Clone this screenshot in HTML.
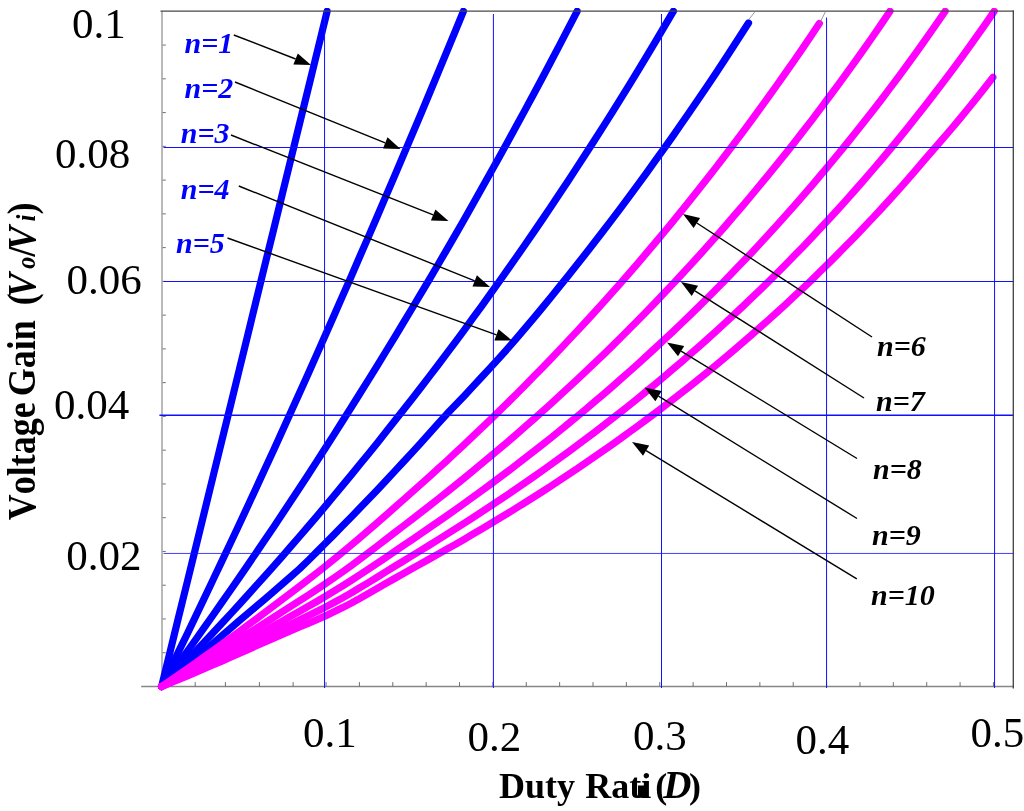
<!DOCTYPE html>
<html><head><meta charset="utf-8"><title>Voltage Gain vs Duty Ratio</title>
<style>html,body{margin:0;padding:0;background:#fff;}body{width:1024px;height:811px;position:relative;overflow:hidden;font-family:"Liberation Serif",serif;}</style></head>
<body>
<svg width="1024" height="811" viewBox="0 0 1024 811" style="position:absolute;left:0;top:0;will-change:transform">
<rect width="1024" height="811" fill="#fff"/>
<line x1="162.0" y1="11" x2="162.0" y2="686.5" stroke="#b2b2b2" stroke-width="1.8"/>
<line x1="141.2" y1="686.5" x2="1014" y2="686.5" stroke="#868686" stroke-width="1.3"/>
<line x1="162.5" y1="652.74" x2="165.8" y2="652.74" stroke="#707070" stroke-width="1"/>
<line x1="162.5" y1="618.98" x2="165.8" y2="618.98" stroke="#707070" stroke-width="1"/>
<line x1="162.5" y1="585.22" x2="165.8" y2="585.22" stroke="#707070" stroke-width="1"/>
<line x1="162.5" y1="551.46" x2="165.8" y2="551.46" stroke="#707070" stroke-width="1"/>
<line x1="162.5" y1="517.70" x2="165.8" y2="517.70" stroke="#707070" stroke-width="1"/>
<line x1="162.5" y1="483.94" x2="165.8" y2="483.94" stroke="#707070" stroke-width="1"/>
<line x1="162.5" y1="450.18" x2="165.8" y2="450.18" stroke="#707070" stroke-width="1"/>
<line x1="162.5" y1="416.42" x2="165.8" y2="416.42" stroke="#707070" stroke-width="1"/>
<line x1="162.5" y1="382.66" x2="165.8" y2="382.66" stroke="#707070" stroke-width="1"/>
<line x1="162.5" y1="348.90" x2="165.8" y2="348.90" stroke="#707070" stroke-width="1"/>
<line x1="162.5" y1="315.14" x2="165.8" y2="315.14" stroke="#707070" stroke-width="1"/>
<line x1="162.5" y1="281.38" x2="165.8" y2="281.38" stroke="#707070" stroke-width="1"/>
<line x1="162.5" y1="247.62" x2="165.8" y2="247.62" stroke="#707070" stroke-width="1"/>
<line x1="162.5" y1="213.86" x2="165.8" y2="213.86" stroke="#707070" stroke-width="1"/>
<line x1="162.5" y1="180.10" x2="165.8" y2="180.10" stroke="#707070" stroke-width="1"/>
<line x1="162.5" y1="146.34" x2="165.8" y2="146.34" stroke="#707070" stroke-width="1"/>
<line x1="162.5" y1="112.58" x2="165.8" y2="112.58" stroke="#707070" stroke-width="1"/>
<line x1="162.5" y1="78.82" x2="165.8" y2="78.82" stroke="#707070" stroke-width="1"/>
<line x1="162.5" y1="45.06" x2="165.8" y2="45.06" stroke="#707070" stroke-width="1"/>
<line x1="195.20" y1="686.5" x2="195.20" y2="682.1" stroke="#707070" stroke-width="1"/>
<line x1="225.40" y1="686.5" x2="225.40" y2="682.1" stroke="#707070" stroke-width="1"/>
<line x1="259.40" y1="686.5" x2="259.40" y2="682.1" stroke="#707070" stroke-width="1"/>
<line x1="293.10" y1="686.5" x2="293.10" y2="682.1" stroke="#707070" stroke-width="1"/>
<line x1="326.05" y1="686.5" x2="326.05" y2="682.1" stroke="#707070" stroke-width="1"/>
<line x1="359.42" y1="686.5" x2="359.42" y2="682.1" stroke="#707070" stroke-width="1"/>
<line x1="392.79" y1="686.5" x2="392.79" y2="682.1" stroke="#707070" stroke-width="1"/>
<line x1="426.16" y1="686.5" x2="426.16" y2="682.1" stroke="#707070" stroke-width="1"/>
<line x1="459.53" y1="686.5" x2="459.53" y2="682.1" stroke="#707070" stroke-width="1"/>
<line x1="492.90" y1="686.5" x2="492.90" y2="682.1" stroke="#707070" stroke-width="1"/>
<line x1="526.27" y1="686.5" x2="526.27" y2="682.1" stroke="#707070" stroke-width="1"/>
<line x1="559.64" y1="686.5" x2="559.64" y2="682.1" stroke="#707070" stroke-width="1"/>
<line x1="593.01" y1="686.5" x2="593.01" y2="682.1" stroke="#707070" stroke-width="1"/>
<line x1="626.38" y1="686.5" x2="626.38" y2="682.1" stroke="#707070" stroke-width="1"/>
<line x1="659.75" y1="686.5" x2="659.75" y2="682.1" stroke="#707070" stroke-width="1"/>
<line x1="693.12" y1="686.5" x2="693.12" y2="682.1" stroke="#707070" stroke-width="1"/>
<line x1="726.49" y1="686.5" x2="726.49" y2="682.1" stroke="#707070" stroke-width="1"/>
<line x1="759.86" y1="686.5" x2="759.86" y2="682.1" stroke="#707070" stroke-width="1"/>
<line x1="793.23" y1="686.5" x2="793.23" y2="682.1" stroke="#707070" stroke-width="1"/>
<line x1="826.60" y1="686.5" x2="826.60" y2="682.1" stroke="#707070" stroke-width="1"/>
<line x1="859.97" y1="686.5" x2="859.97" y2="682.1" stroke="#707070" stroke-width="1"/>
<line x1="893.34" y1="686.5" x2="893.34" y2="682.1" stroke="#707070" stroke-width="1"/>
<line x1="926.71" y1="686.5" x2="926.71" y2="682.1" stroke="#707070" stroke-width="1"/>
<line x1="960.08" y1="686.5" x2="960.08" y2="682.1" stroke="#707070" stroke-width="1"/>
<line x1="993.45" y1="686.5" x2="993.45" y2="682.1" stroke="#707070" stroke-width="1"/>
<defs><clipPath id="cp"><rect x="0" y="8.0" width="1024" height="802"/></clipPath></defs>
<g clip-path="url(#cp)">
<path d="M161.6 686.5 L170.2 651.3 L178.8 616.2 L187.5 581.0 L196.1 545.8 L204.7 510.7 L213.3 475.5 L221.9 440.3 L230.6 405.2 L239.2 370.0 L247.8 334.8 L256.4 299.7 L265.0 264.5 L273.7 229.3 L282.3 194.2 L290.9 159.0 L299.5 123.8 L308.2 88.7 L316.8 53.5 L325.4 18.3 L327.1 11.3" fill="none" stroke="#0000ff" stroke-width="7.2" stroke-linecap="round" stroke-linejoin="round"/>
<path d="M161.6 686.5 L170.2 668.9 L178.8 651.1 L187.5 633.3 L196.1 615.4 L204.7 597.4 L213.3 579.3 L221.9 561.1 L230.6 542.8 L239.2 524.5 L247.8 506.0 L256.4 487.4 L265.0 468.7 L273.7 449.9 L282.3 431.0 L290.9 412.0 L299.5 392.9 L308.2 373.7 L316.8 354.4 L325.4 335.0 L334.0 315.5 L342.6 295.9 L351.3 276.2 L359.9 256.3 L368.6 236.4 L377.3 216.3 L385.9 196.1 L394.6 175.8 L403.3 155.4 L412.0 134.9 L420.7 114.3 L429.4 93.5 L438.1 72.7 L446.8 51.7 L455.5 30.6 L463.4 11.3" fill="none" stroke="#0000ff" stroke-width="7.2" stroke-linecap="round" stroke-linejoin="round"/>
<path d="M161.6 686.5 L170.2 674.7 L178.8 662.9 L187.5 651.0 L196.1 639.0 L204.7 626.9 L213.3 614.7 L221.9 602.4 L230.6 590.0 L239.2 577.6 L247.8 565.1 L256.4 552.4 L265.0 539.7 L273.7 526.9 L282.3 514.0 L290.9 501.0 L299.5 487.9 L308.2 474.7 L316.8 461.4 L325.4 448.0 L334.0 434.6 L342.6 421.0 L351.3 407.3 L359.9 393.5 L368.6 379.6 L377.3 365.6 L385.9 351.5 L394.6 337.3 L403.3 322.9 L412.0 308.5 L420.7 293.9 L429.4 279.3 L438.1 264.5 L446.8 249.6 L455.5 234.6 L464.2 219.5 L472.8 204.2 L481.5 188.8 L490.2 173.3 L498.9 157.7 L507.6 142.0 L516.3 126.1 L525.0 110.1 L533.7 94.0 L542.4 77.7 L551.1 61.3 L559.7 44.8 L568.4 28.1 L577.1 11.3 L577.1 11.3" fill="none" stroke="#0000ff" stroke-width="7.2" stroke-linecap="round" stroke-linejoin="round"/>
<path d="M161.6 686.5 L170.2 677.7 L178.8 668.8 L187.5 659.8 L196.1 650.8 L204.7 641.7 L213.3 632.5 L221.9 623.2 L230.6 613.9 L239.2 604.5 L247.8 595.0 L256.4 585.4 L265.0 575.8 L273.7 566.1 L282.3 556.3 L290.9 546.4 L299.5 536.5 L308.2 526.4 L316.8 516.3 L325.4 506.1 L334.0 495.8 L342.6 485.4 L351.3 474.9 L359.9 464.3 L368.6 453.7 L377.3 442.9 L385.9 432.1 L394.6 421.1 L403.3 410.1 L412.0 399.0 L420.7 387.7 L429.4 376.4 L438.1 365.0 L446.8 353.4 L455.5 341.8 L464.2 330.1 L472.8 318.2 L481.5 306.3 L490.2 294.2 L498.9 282.0 L507.6 269.7 L516.3 257.3 L525.0 244.8 L533.7 232.1 L542.4 219.4 L551.1 206.5 L559.7 193.5 L568.4 180.4 L577.1 167.1 L585.8 153.7 L594.5 140.2 L603.2 126.6 L611.9 112.8 L620.6 98.9 L629.3 84.8 L638.0 70.6 L646.6 56.3 L655.3 41.8 L664.0 27.2 L672.7 12.4 L673.4 11.3" fill="none" stroke="#0000ff" stroke-width="7.2" stroke-linecap="round" stroke-linejoin="round"/>
<path d="M161.6 686.5 L170.2 679.4 L178.8 672.3 L187.5 665.1 L196.1 657.9 L204.7 650.6 L213.3 643.2 L221.9 635.8 L230.6 628.3 L239.2 620.7 L247.8 613.5 L256.4 606.2 L265.0 598.9 L273.7 591.5 L282.3 584.0 L290.9 576.5 L299.5 568.9 L308.2 560.5 L316.8 551.9 L325.4 543.3 L334.0 534.6 L342.6 525.8 L351.3 517.0 L359.9 508.0 L368.6 499.0 L377.3 489.9 L385.9 480.7 L394.6 471.4 L403.3 462.0 L412.0 452.6 L420.7 443.1 L429.4 433.4 L438.1 423.7 L446.8 414.1 L455.5 405.0 L464.2 395.9 L472.8 386.6 L481.5 377.3 L490.2 367.9 L498.9 358.3 L507.6 348.7 L516.3 338.7 L525.0 328.4 L533.7 318.1 L542.4 307.6 L551.1 297.0 L559.7 286.3 L568.4 275.4 L577.1 264.5 L585.8 253.5 L594.5 242.3 L603.2 231.0 L611.9 219.6 L620.6 208.1 L629.3 196.4 L638.0 184.7 L646.6 172.8 L655.3 160.7 L664.0 148.6 L672.7 136.3 L681.4 123.8 L690.1 111.3 L698.8 98.5 L707.5 85.7 L716.2 72.7 L724.9 59.5 L733.5 46.2 L742.2 32.8 L748.5 23.0" fill="none" stroke="#0000ff" stroke-width="7.2" stroke-linecap="round" stroke-linejoin="round"/>
<path d="M161.6 686.5 L170.2 680.6 L178.8 674.7 L187.5 668.7 L196.1 662.6 L204.7 656.5 L213.3 650.4 L221.9 644.2 L230.6 637.9 L239.2 631.6 L247.8 625.2 L256.4 618.8 L265.0 612.4 L273.7 605.9 L282.3 599.4 L290.9 592.8 L299.5 586.3 L308.2 579.7 L316.8 573.0 L325.4 566.2 L334.0 559.3 L342.6 552.3 L351.3 545.1 L359.9 537.7 L368.6 530.3 L377.3 522.7 L385.9 515.2 L394.6 507.5 L403.3 499.9 L412.0 492.1 L420.7 484.4 L429.4 476.6 L438.1 468.7 L446.8 460.8 L455.5 452.7 L464.2 444.6 L472.8 436.4 L481.5 428.2 L490.2 419.8 L498.9 411.3 L507.6 402.8 L516.3 394.2 L525.0 385.5 L533.7 376.6 L542.4 367.7 L551.1 358.7 L559.7 349.6 L568.4 340.4 L577.1 331.1 L585.8 321.7 L594.5 312.2 L603.2 302.6 L611.9 292.9 L620.6 283.1 L629.3 273.1 L638.0 263.1 L646.6 252.9 L655.3 242.6 L664.0 232.2 L672.7 221.7 L681.4 211.0 L690.1 200.2 L698.8 189.3 L707.5 178.3 L716.2 167.1 L724.9 155.8 L733.5 144.4 L742.2 132.8 L750.9 121.1 L759.6 109.2 L768.3 97.2 L777.0 85.0 L785.7 72.7 L794.4 60.2 L803.1 47.6 L811.8 34.8 L819.3 23.5" fill="none" stroke="#ff00ff" stroke-width="7.2" stroke-linecap="round" stroke-linejoin="round"/>
<path d="M161.6 686.5 L170.2 681.5 L178.8 676.4 L187.5 671.2 L196.1 666.0 L204.7 660.8 L213.3 655.5 L221.9 650.2 L230.6 644.8 L239.2 639.4 L247.8 633.9 L256.4 628.4 L265.0 622.9 L273.7 617.4 L282.3 611.8 L290.9 606.3 L299.5 600.7 L308.2 595.2 L316.8 589.5 L325.4 583.8 L334.0 577.9 L342.6 571.9 L351.3 565.6 L359.9 559.2 L368.6 552.7 L377.3 546.0 L385.9 539.4 L394.6 532.7 L403.3 526.0 L412.0 519.3 L420.7 512.6 L429.4 505.8 L438.1 499.0 L446.8 492.1 L455.5 485.1 L464.2 478.1 L472.8 471.0 L481.5 463.8 L490.2 456.6 L498.9 449.3 L507.6 441.9 L516.3 434.4 L525.0 426.8 L533.7 419.2 L542.4 411.4 L551.1 403.6 L559.7 395.7 L568.4 387.7 L577.1 379.6 L585.8 371.4 L594.5 363.1 L603.2 354.8 L611.9 346.3 L620.6 337.7 L629.3 329.0 L638.0 320.3 L646.6 311.4 L655.3 302.4 L664.0 293.3 L672.7 284.1 L681.4 274.8 L690.1 265.4 L698.8 255.8 L707.5 246.2 L716.2 236.4 L724.9 226.5 L733.5 216.4 L742.2 206.3 L750.9 196.0 L759.6 185.5 L768.3 175.0 L777.0 164.3 L785.7 153.4 L794.4 142.5 L803.1 131.3 L811.8 120.1 L820.4 108.6 L829.1 97.0 L837.8 85.3 L846.5 73.4 L855.2 61.3 L863.9 49.1 L872.6 36.7 L881.3 24.1 L890.0 11.3 L890.0 11.3" fill="none" stroke="#ff00ff" stroke-width="7.2" stroke-linecap="round" stroke-linejoin="round"/>
<path d="M161.6 686.5 L170.2 682.1 L178.8 677.6 L187.5 673.1 L196.1 668.6 L204.7 664.0 L213.3 659.4 L221.9 654.7 L230.6 650.0 L239.2 645.3 L247.8 640.5 L256.4 635.6 L265.0 630.8 L273.7 625.9 L282.3 621.1 L290.9 616.2 L299.5 611.3 L308.2 606.4 L316.8 601.5 L325.4 596.4 L334.0 591.2 L342.6 585.9 L351.3 580.4 L359.9 574.8 L368.6 569.0 L377.3 563.2 L385.9 557.4 L394.6 551.5 L403.3 545.6 L412.0 539.7 L420.7 533.8 L429.4 527.8 L438.1 521.8 L446.8 515.8 L455.5 509.6 L464.2 503.4 L472.8 497.2 L481.5 490.9 L490.2 484.5 L498.9 478.0 L507.6 471.5 L516.3 464.9 L525.0 458.2 L533.7 451.4 L542.4 444.6 L551.1 437.7 L559.7 430.7 L568.4 423.6 L577.1 416.4 L585.8 409.2 L594.5 401.8 L603.2 394.4 L611.9 386.9 L620.6 379.3 L629.3 371.6 L638.0 363.9 L646.6 356.0 L655.3 348.0 L664.0 339.9 L672.7 331.8 L681.4 323.5 L690.1 315.1 L698.8 306.6 L707.5 298.0 L716.2 289.3 L724.9 280.5 L733.5 271.6 L742.2 262.5 L750.9 253.4 L759.6 244.1 L768.3 234.6 L777.0 225.1 L785.7 215.4 L794.4 205.6 L803.1 195.7 L811.8 185.6 L820.4 175.4 L829.1 165.0 L837.8 154.5 L846.5 143.9 L855.2 133.1 L863.9 122.1 L872.6 111.0 L881.3 99.7 L890.0 88.2 L898.7 76.6 L907.3 64.8 L916.0 52.8 L924.7 40.7 L933.4 28.3 L942.1 15.8 L945.2 11.3" fill="none" stroke="#ff00ff" stroke-width="7.2" stroke-linecap="round" stroke-linejoin="round"/>
<path d="M161.6 686.5 L170.2 682.6 L178.8 678.6 L187.5 674.6 L196.1 670.6 L204.7 666.5 L213.3 662.4 L221.9 658.2 L230.6 654.0 L239.2 649.8 L247.8 645.6 L256.4 641.3 L265.0 637.0 L273.7 632.7 L282.3 628.4 L290.9 624.2 L299.5 620.0 L308.2 615.7 L316.8 611.5 L325.4 607.1 L334.0 602.5 L342.6 597.8 L351.3 592.9 L359.9 587.7 L368.6 582.5 L377.3 577.1 L385.9 571.8 L394.6 566.4 L403.3 561.1 L412.0 555.8 L420.7 550.5 L429.4 545.1 L438.1 539.7 L446.8 534.3 L455.5 528.8 L464.2 523.3 L472.8 517.7 L481.5 512.0 L490.2 506.3 L498.9 500.5 L507.6 494.7 L516.3 488.8 L525.0 482.8 L533.7 476.7 L542.4 470.6 L551.1 464.4 L559.7 458.1 L568.4 451.8 L577.1 445.4 L585.8 438.9 L594.5 432.3 L603.2 425.6 L611.9 418.9 L620.6 412.1 L629.3 405.2 L638.0 398.2 L646.6 391.1 L655.3 383.9 L664.0 376.7 L672.7 369.3 L681.4 361.9 L690.1 354.3 L698.8 346.7 L707.5 339.0 L716.2 331.1 L724.9 323.2 L733.5 315.1 L742.2 307.0 L750.9 298.7 L759.6 290.3 L768.3 281.8 L777.0 273.2 L785.7 264.5 L794.4 255.6 L803.1 246.7 L811.8 237.6 L820.4 228.3 L829.1 219.0 L837.8 209.5 L846.5 199.8 L855.2 190.0 L863.9 180.1 L872.6 170.0 L881.3 159.8 L890.0 149.4 L898.7 138.9 L907.3 128.2 L916.0 117.3 L924.7 106.3 L933.4 95.0 L942.1 83.6 L950.8 72.1 L959.5 60.3 L968.2 48.4 L976.9 36.2 L985.6 23.9 L994.2 11.3" fill="none" stroke="#ff00ff" stroke-width="7.2" stroke-linecap="round" stroke-linejoin="round"/>
<path d="M161.6 686.5 L170.2 683.0 L178.8 679.4 L187.5 675.8 L196.1 672.2 L204.7 668.5 L213.3 664.8 L221.9 661.1 L230.6 657.3 L239.2 653.5 L247.8 649.6 L256.4 645.8 L265.0 642.0 L273.7 638.2 L282.3 634.4 L290.9 630.7 L299.5 627.0 L308.2 623.4 L316.8 619.7 L325.4 615.9 L334.0 611.8 L342.6 607.6 L351.3 603.1 L359.9 598.3 L368.6 593.4 L377.3 588.4 L385.9 583.4 L394.6 578.5 L403.3 573.6 L412.0 568.7 L420.7 563.9 L429.4 559.0 L438.1 554.1 L446.8 549.2 L455.5 544.3 L464.2 539.3 L472.8 534.2 L481.5 529.1 L490.2 523.9 L498.9 518.7 L507.6 513.4 L516.3 508.0 L525.0 502.6 L533.7 497.1 L542.4 491.6 L551.1 485.9 L559.7 480.3 L568.4 474.5 L577.1 468.7 L585.8 462.8 L594.5 456.8 L603.2 450.8 L611.9 444.7 L620.6 438.5 L629.3 432.2 L638.0 425.9 L646.6 419.5 L655.3 413.0 L664.0 406.4 L672.7 399.7 L681.4 392.9 L690.1 386.1 L698.8 379.1 L707.5 372.1 L716.2 365.0 L724.9 357.8 L733.5 350.4 L742.2 343.0 L750.9 335.5 L759.6 327.8 L768.3 320.1 L777.0 312.3 L785.7 304.3 L794.4 296.2 L803.1 288.1 L811.8 279.8 L820.4 271.3 L829.1 262.8 L837.8 254.1 L846.5 245.3 L855.2 236.4 L863.9 227.3 L872.6 218.1 L881.3 208.7 L890.0 199.2 L898.7 189.6 L907.3 179.8 L916.0 169.9 L924.7 159.7 L933.4 149.7 L942.1 139.7 L950.8 129.5 L959.5 119.1 L968.2 108.5 L976.9 97.8 L985.6 86.8 L992.9 77.4" fill="none" stroke="#ff00ff" stroke-width="7.2" stroke-linecap="round" stroke-linejoin="round"/>
</g>
<line x1="324.55" y1="11.0" x2="324.55" y2="688" stroke="#1010ff" stroke-width="1"/>
<line x1="493.40" y1="14.0" x2="493.40" y2="688" stroke="#1010ff" stroke-width="1"/>
<line x1="661.50" y1="14.0" x2="661.50" y2="688" stroke="#1010ff" stroke-width="1"/>
<line x1="826.55" y1="17.5" x2="826.55" y2="688" stroke="#1010ff" stroke-width="1"/>
<line x1="994.55" y1="11.0" x2="994.55" y2="688" stroke="#1010ff" stroke-width="1"/>
<line x1="163.5" y1="147.50" x2="1013.5" y2="147.50" stroke="#1010ff" stroke-width="1"/>
<line x1="163.5" y1="281.50" x2="1013.5" y2="281.50" stroke="#1010ff" stroke-width="1"/>
<line x1="159.4" y1="415.25" x2="1013.5" y2="415.25" stroke="#1010ff" stroke-width="1.7"/>
<line x1="163.5" y1="553.45" x2="1013.5" y2="553.45" stroke="#1010ff" stroke-width="0.8"/>
<line x1="160.5" y1="11.1" x2="1014" y2="11.1" stroke="#484848" stroke-width="1.4"/>
<line x1="1013.3" y1="10.4" x2="1013.3" y2="688.5" stroke="#404040" stroke-width="1.3"/>
<line x1="748.5" y1="20" x2="755.5" y2="11" stroke="#808080" stroke-width="0.8"/>
<line x1="819.3" y1="24" x2="825.8" y2="11" stroke="#808080" stroke-width="0.8"/>
<line x1="233.8" y1="35.0" x2="295.6" y2="59.0" stroke="#000" stroke-width="1.4"/>
<polygon points="311.0,65.0 297.8,53.4 293.4,64.6" fill="#000"/>
<line x1="235.0" y1="82.0" x2="385.2" y2="142.8" stroke="#000" stroke-width="1.4"/>
<polygon points="400.5,149.0 387.5,137.2 383.0,148.4" fill="#000"/>
<line x1="231.0" y1="135.0" x2="433.2" y2="214.9" stroke="#000" stroke-width="1.4"/>
<polygon points="448.5,221.0 435.4,209.4 430.9,220.5" fill="#000"/>
<line x1="238.8" y1="186.0" x2="474.7" y2="280.8" stroke="#000" stroke-width="1.4"/>
<polygon points="490.0,287.0 476.9,275.3 472.5,286.4" fill="#000"/>
<line x1="227.5" y1="238.0" x2="496.5" y2="334.9" stroke="#000" stroke-width="1.4"/>
<polygon points="512.0,340.5 498.5,329.3 494.4,340.6" fill="#000"/>
<line x1="872.0" y1="337.0" x2="696.8" y2="223.0" stroke="#000" stroke-width="1.4"/>
<polygon points="683.0,214.0 693.6,228.0 700.1,218.0" fill="#000"/>
<line x1="864.0" y1="398.0" x2="694.9" y2="290.8" stroke="#000" stroke-width="1.4"/>
<polygon points="681.0,282.0 691.7,295.9 698.1,285.8" fill="#000"/>
<line x1="857.0" y1="458.5" x2="681.1" y2="351.1" stroke="#000" stroke-width="1.4"/>
<polygon points="667.0,342.5 678.0,356.2 684.2,346.0" fill="#000"/>
<line x1="857.0" y1="518.5" x2="658.5" y2="396.2" stroke="#000" stroke-width="1.4"/>
<polygon points="644.5,387.5 655.4,401.3 661.7,391.1" fill="#000"/>
<line x1="856.8" y1="578.8" x2="646.1" y2="450.6" stroke="#000" stroke-width="1.4"/>
<polygon points="632.0,442.0 643.0,455.7 649.2,445.5" fill="#000"/>
<text x="184.5" y="52.5" font-family="Liberation Serif, serif" font-size="30" font-weight="bold" font-style="italic" fill="#0000ff">n=1</text>
<text x="184.5" y="97.5" font-family="Liberation Serif, serif" font-size="30" font-weight="bold" font-style="italic" fill="#0000ff">n=2</text>
<text x="180.8" y="143.0" font-family="Liberation Serif, serif" font-size="30" font-weight="bold" font-style="italic" fill="#0000ff">n=3</text>
<text x="180.8" y="199.0" font-family="Liberation Serif, serif" font-size="30" font-weight="bold" font-style="italic" fill="#0000ff">n=4</text>
<text x="176.0" y="253.0" font-family="Liberation Serif, serif" font-size="30" font-weight="bold" font-style="italic" fill="#0000ff">n=5</text>
<text x="877.0" y="355.5" font-family="Liberation Serif, serif" font-size="30" font-weight="bold" font-style="italic" fill="#000">n=6</text>
<text x="876.0" y="411.0" font-family="Liberation Serif, serif" font-size="30" font-weight="bold" font-style="italic" fill="#000">n=7</text>
<text x="873.0" y="478.8" font-family="Liberation Serif, serif" font-size="30" font-weight="bold" font-style="italic" fill="#000">n=8</text>
<text x="872.0" y="544.5" font-family="Liberation Serif, serif" font-size="30" font-weight="bold" font-style="italic" fill="#000">n=9</text>
<text x="871.0" y="604.5" font-family="Liberation Serif, serif" font-size="30" font-weight="bold" font-style="italic" fill="#000">n=10</text>
<text x="72.0" y="38.0" font-family="Liberation Serif, serif" font-size="43" fill="#000">0.1</text>
<text x="55.0" y="168.0" font-family="Liberation Serif, serif" font-size="43" fill="#000">0.08</text>
<text x="66.5" y="294.0" font-family="Liberation Serif, serif" font-size="43" fill="#000">0.06</text>
<text x="54.0" y="419.0" font-family="Liberation Serif, serif" font-size="43" fill="#000">0.04</text>
<text x="66.3" y="569.5" font-family="Liberation Serif, serif" font-size="43" fill="#000">0.02</text>
<text x="303.0" y="747.0" font-family="Liberation Serif, serif" font-size="43" fill="#000">0.1</text>
<text x="467.5" y="751.0" font-family="Liberation Serif, serif" font-size="43" fill="#000">0.2</text>
<text x="633.0" y="750.0" font-family="Liberation Serif, serif" font-size="43" fill="#000">0.3</text>
<text x="795.5" y="754.0" font-family="Liberation Serif, serif" font-size="43" fill="#000">0.4</text>
<text x="970.5" y="747.0" font-family="Liberation Serif, serif" font-size="43" fill="#000">0.5</text>
<text x="499" y="798" font-family="Liberation Serif, serif" font-size="36" font-weight="bold" fill="#000" style="font-kerning:none">Duty<tspan dx="1.2"> Rat</tspan><tspan dx="0">i</tspan><tspan dx="4.1">(</tspan><tspan font-style="italic" font-size="39" dx="-4.2">D</tspan><tspan dx="-2.2">)</tspan></text>
<rect x="638" y="785.5" width="6" height="12.3" fill="#000"/>
<g transform="translate(35.2,520.3) rotate(-90) scale(1,1.13)"><text x="0" y="0" font-family="Liberation Serif, serif" font-size="36" font-weight="bold" fill="#000" style="font-kerning:none">Voltage<tspan dx="-3"> Gain</tspan><tspan dx="6"> (</tspan><tspan font-style="italic" dx="-4">V</tspan><tspan font-style="italic" font-size="24" dx="4.5">o</tspan>/<tspan font-style="italic" dx="-3.5">V</tspan><tspan font-style="italic" font-size="24" dx="5">i</tspan>)</text></g>
</svg>
</body></html>
